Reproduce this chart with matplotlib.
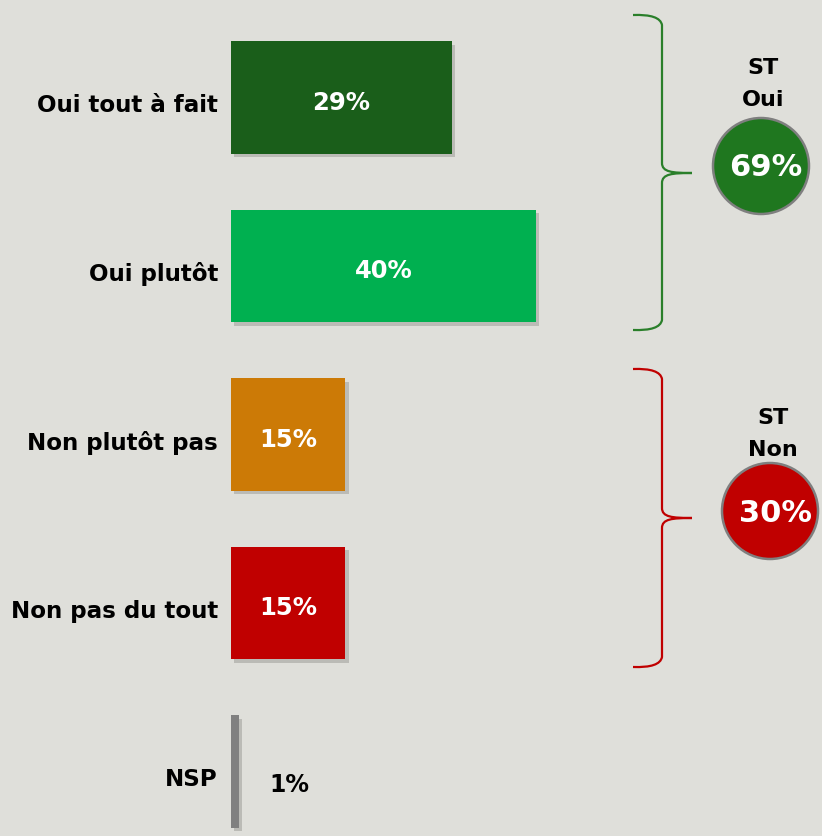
import matplotlib.pyplot as plt
import matplotlib.patheffects as pe
from matplotlib.patches import Circle, PathPatch
from matplotlib.path import Path

# donnees
categories = ["Oui tout à fait", "Oui plutôt", "Non plutôt pas", "Non pas du tout", "NSP"]
valeurs = [29, 40, 15, 15, 1]
couleurs = ["#1a5e1a", "#00b050", "#cc7a06", "#c00000", "#808080"]

st_oui = valeurs[0] + valeurs[1]
st_non = valeurs[2] + valeurs[3]

fond = "#dfdfda"

fig = plt.figure(figsize=(8.22, 8.36), dpi=100)
fig.patch.set_facecolor(fond)

# axe principal : 0% a x=231px, 1% = 7.62px, barres espacees de 168.5px
ax = fig.add_axes([0, 0, 1, 1])
ax.set_facecolor(fond)
px = 7.62
ax.set_xlim(-231 / px, 591 / px)
ax.set_ylim((836 - 97.5) / 168.5, -97.5 / 168.5)
ax.axis("off")

ombre = [pe.SimplePatchShadow(offset=(2.5, -2.5), shadow_rgbFace="black", alpha=0.16), pe.Normal()]

ypos = list(range(len(categories)))
bars = ax.barh(ypos, valeurs, height=0.67, color=couleurs, zorder=3)
for b in bars:
    b.set_path_effects(ombre)

for i, (cat, v) in enumerate(zip(categories, valeurs)):
    ax.text(-13 / px, i + 0.05, cat, ha="right", va="center", fontsize=16.6,
            fontweight="bold", color="black", zorder=4)
    if v > 5:
        ax.text(v / 2, i + 0.03, f"{v}%", ha="center", va="center", fontsize=17.5,
                fontweight="bold", color="white", zorder=4)
    else:
        ax.text(v + 31 / px, i + 0.08, f"{v}%", ha="left", va="center", fontsize=17,
                fontweight="bold", color="black", zorder=4)

# axe en pixels pour les accolades et les cercles
ov = fig.add_axes([0, 0, 1, 1])
ov.set_xlim(0, 822)
ov.set_ylim(836, 0)
ov.axis("off")
ov.patch.set_alpha(0)


def accolade(y0, y1, ym, col):
    xe, xv, xt = 633, 662, 692
    verts = [(xe, y0), (xv - 2, y0 - 1), (xv, y0 + 10),
             (xv, ym - 10),
             (xv, ym - 1), (xt - 20, ym), (xt, ym),
             (xt - 20, ym), (xv, ym + 1), (xv, ym + 10),
             (xv, y1 - 10),
             (xv - 2, y1 + 1), (xe, y1)]
    codes = [Path.MOVETO, Path.CURVE3, Path.CURVE3,
             Path.LINETO,
             Path.CURVE4, Path.CURVE4, Path.CURVE4,
             Path.CURVE4, Path.CURVE4, Path.CURVE4,
             Path.LINETO,
             Path.CURVE3, Path.CURVE3]
    ov.add_patch(PathPatch(Path(verts, codes), fill=False, edgecolor=col, lw=1.6))


accolade(15, 330, 173, "#2a7f2a")
accolade(369, 667, 518, "#c00000")

# cercles ST
ov.add_patch(Circle((761, 166), 48, facecolor="#1f771f", edgecolor="#7f7f7f", lw=1.8))
ov.text(763, 68, "ST", ha="center", va="center", fontsize=16, fontweight="bold")
ov.text(763, 100, "Oui", ha="center", va="center", fontsize=16, fontweight="bold")
ov.text(766, 167, f"{st_oui}%", ha="center", va="center", fontsize=22,
        fontweight="bold", color="white")

ov.add_patch(Circle((770, 511), 48, facecolor="#c00000", edgecolor="#7f7f7f", lw=1.8))
ov.text(773, 418, "ST", ha="center", va="center", fontsize=16, fontweight="bold")
ov.text(773, 450, "Non", ha="center", va="center", fontsize=16, fontweight="bold")
ov.text(775, 513, f"{st_non}%", ha="center", va="center", fontsize=22,
        fontweight="bold", color="white")

fig.savefig("out.png", dpi=100, facecolor=fond)
